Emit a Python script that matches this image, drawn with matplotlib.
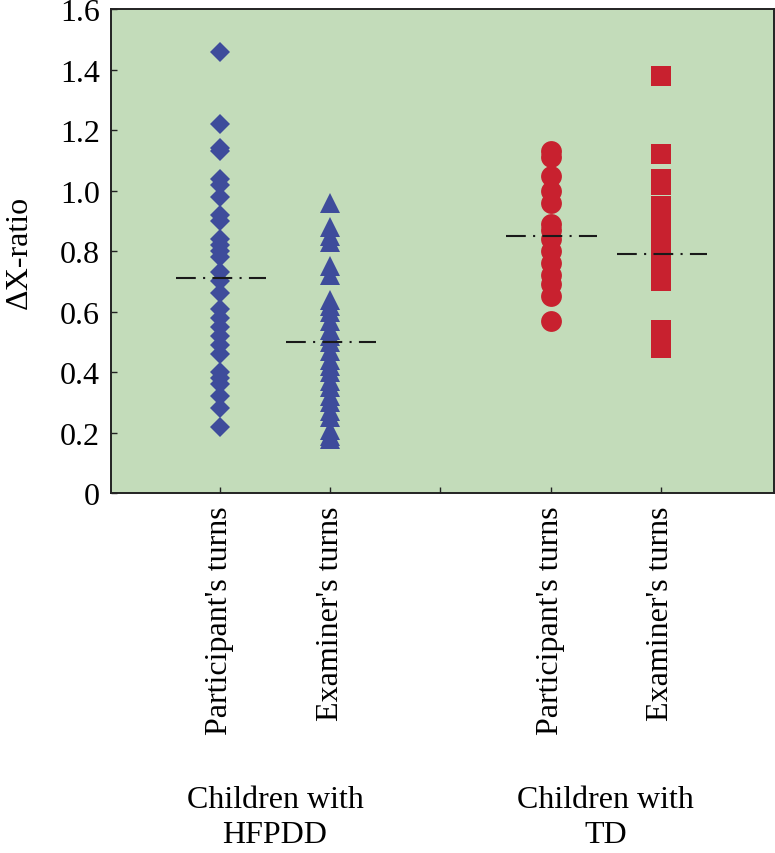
import numpy as np
import matplotlib
matplotlib.use("Agg")
import matplotlib.pyplot as plt

plt.rcParams['font.family'] = ['Liberation Serif', 'DejaVu Serif']

# values
hfpdd_part = [1.46, 1.22, 1.14, 1.13, 1.04, 1.02, 0.98, 0.92, 0.90, 0.84, 0.82, 0.80,
              0.78, 0.73, 0.70, 0.66, 0.61, 0.58, 0.55, 0.52, 0.49, 0.46, 0.40, 0.38,
              0.36, 0.32, 0.28, 0.22]
hfpdd_exam = [0.96, 0.88, 0.85, 0.83, 0.75, 0.72, 0.64, 0.62, 0.60, 0.57, 0.54, 0.52,
              0.50, 0.47, 0.44, 0.42, 0.40, 0.37, 0.35, 0.32, 0.30, 0.27, 0.25, 0.21,
              0.19, 0.18]
td_part = [1.13, 1.11, 1.05, 1.00, 0.96, 0.89, 0.87, 0.84, 0.80, 0.76, 0.72, 0.69,
           0.65, 0.57]
td_exam = [1.38, 1.12, 1.04, 1.02, 0.95, 0.91, 0.86, 0.82, 0.78, 0.74, 0.70, 0.54, 0.48]
means = [0.71, 0.50, 0.85, 0.79]

positions = [1, 2, 4, 5]
tick_pos = [1, 2, 3, 4, 5]
tick_labels = ["Participant's turns", "Examiner's turns", "",
               "Participant's turns", "Examiner's turns"]
groups = ["Children with\nHFPDD", "Children with\nTD"]

blue = '#3e4c9b'
red = '#c8212f'

fig = plt.figure(figsize=(7.75, 8.54), dpi=100)
ax = fig.add_axes([0.143, 0.4215, 0.856, 0.5665])
ax.set_facecolor('#c3dcba')

series = [hfpdd_part, hfpdd_exam, td_part, td_exam]
markers = ['D', '^', 'o', 's']
sizes = [10.2, 14.4, 15, 13.7]
colors = [blue, blue, red, red]
for x, vals, m, ms, c in zip(positions, series, markers, sizes, colors):
    ax.plot([x] * len(vals), vals, linestyle='none', marker=m, markersize=ms,
            color=c, markeredgewidth=0)

for x, mu in zip(positions, means):
    ax.plot([x - 0.4, x + 0.42], [mu, mu], color='#1a1a1a', lw=1.5,
            dashes=(9.5, 3.5, 1, 3.5))

ax.set_xlim(0.01, 6.03)
ax.set_ylim(0, 1.6)
ax.set_yticks([0, 0.2, 0.4, 0.6, 0.8, 1.0, 1.2, 1.4, 1.6])
ax.set_yticklabels(['0', '0.2', '0.4', '0.6', '0.8', '1.0', '1.2', '1.4', '1.6'])
ax.set_xticks(tick_pos)
ax.set_xticklabels(tick_labels, rotation=90)
ax.tick_params(axis='both', direction='in', length=4, width=1, labelsize=23,
               color='#222222')
ax.tick_params(axis='x', pad=9)
ax.tick_params(axis='y', pad=8)
for sp in ax.spines.values():
    sp.set_linewidth(1.4)
    sp.set_color('#222222')

ax.set_ylabel('ΔX-ratio', fontsize=23, labelpad=19)

for gx, g in zip([1.5, 4.5], groups):
    ax.text(gx, -0.965, g, ha='center', va='top', fontsize=23,
            transform=ax.transData, linespacing=1.3)

fig.savefig('out.png', dpi=100)
